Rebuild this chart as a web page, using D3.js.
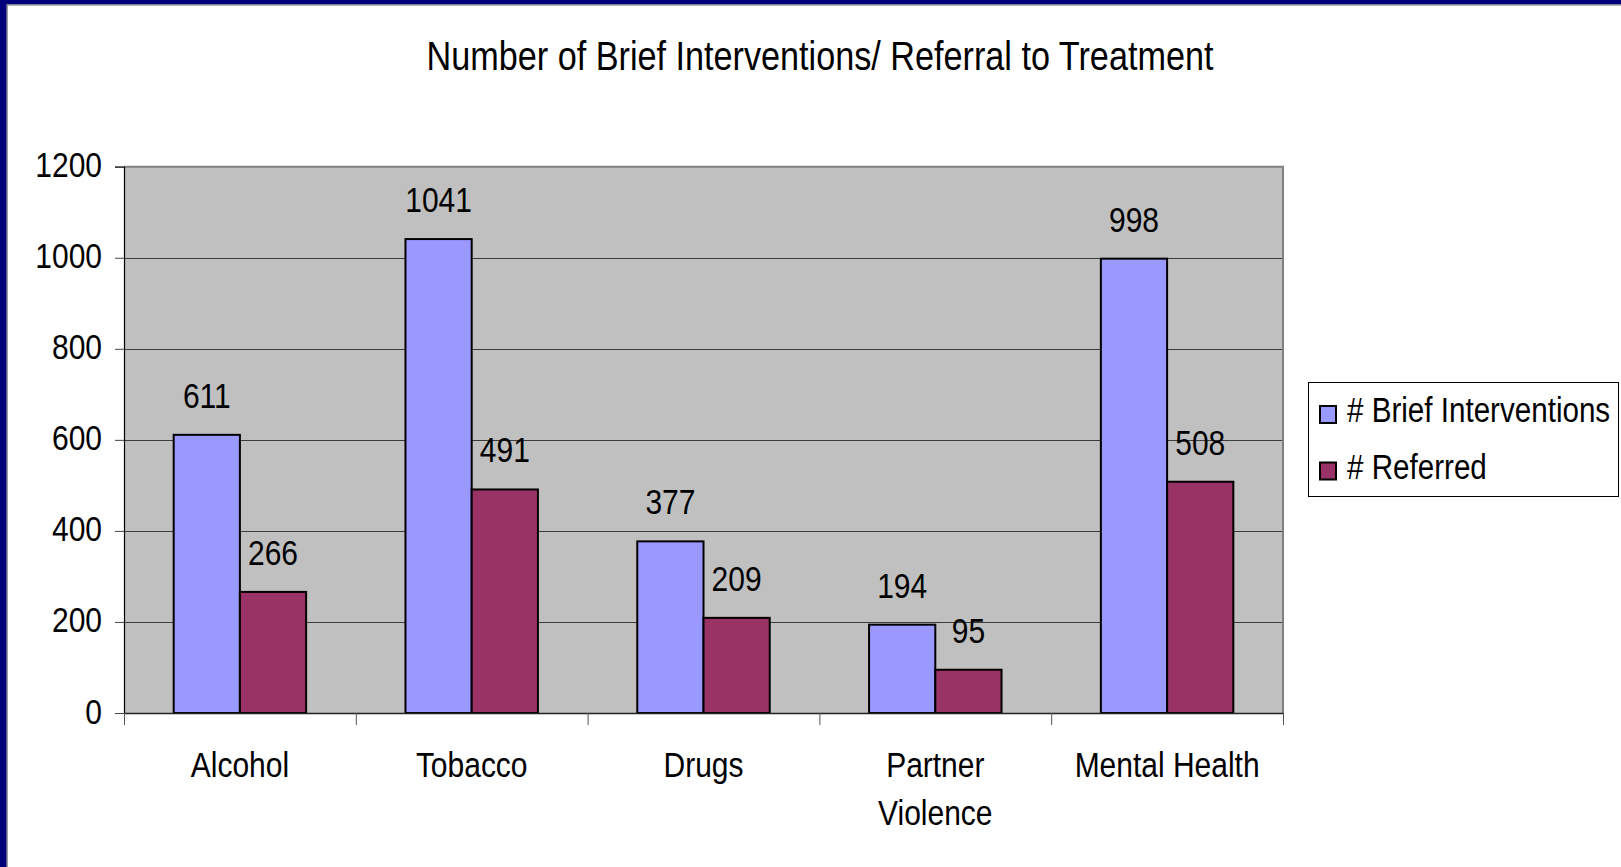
<!DOCTYPE html>
<html><head><meta charset="utf-8">
<script src="https://cdn.jsdelivr.net/npm/d3@7/dist/d3.min.js"></script>
<style>
html,body{margin:0;padding:0;background:#fff;}
svg{display:block;}
text{font-family:"Liberation Sans",Arial,sans-serif;fill:#000;}
</style></head>
<body>
<script>
const title = "Number of Brief Interventions/ Referral to Treatment";
const categories = ["Alcohol","Tobacco","Drugs","Partner Violence","Mental Health"];
const categoryLines = [["Alcohol"],["Tobacco"],["Drugs"],["Partner","Violence"],["Mental Health"]];
const seriesNames = ["# Brief Interventions","# Referred"];
const briefInterventions = [611,1041,377,194,998];
const referred = [266,491,209,95,508];
const yTicks = [0,200,400,600,800,1000,1200];
const seriesColors = ["#9999ff","#993366"];

(function(){
const W = 1621, H = 867;
const SY = 1.17; // vertical stretch of the original text
const svg = d3.select("body").append("svg").attr("width",W).attr("height",H);

// frame
svg.append("rect").attr("x",0).attr("y",0).attr("width",W).attr("height",H).attr("fill","#fff");
svg.append("rect").attr("x",0).attr("y",0).attr("width",W).attr("height",4.5).attr("fill","#00007a");
svg.append("rect").attr("x",0).attr("y",0).attr("width",6.5).attr("height",H).attr("fill","#00007a");
svg.append("line").attr("x1",6.5).attr("x2",W).attr("y1",5).attr("y2",5).attr("stroke","#7a7a7a").attr("stroke-width",1.2);
svg.append("line").attr("x1",7).attr("x2",7).attr("y1",5).attr("y2",H).attr("stroke","#3a3a5a").attr("stroke-width",1);

function stext(g, str, x, y, size, anchor){
  return g.append("text")
    .attr("transform",`translate(${x},${y}) scale(1,${SY})`)
    .attr("text-anchor",anchor||"middle")
    .attr("font-size",size)
    .text(str);
}

// plot area
const pL = 124, pR = 1283, pT = 166.7, pB = 713;
const y = d3.scaleLinear().domain([0,1200]).range([pB,pT]);
const x0 = d3.scaleBand().domain(categories).range([pL,pR]).paddingInner(0).paddingOuter(0);
// Excel gap width 150%: group of 2 bars plus gap of 1.5 bar widths
const bw = x0.bandwidth()/3.5;
const x1 = d3.scaleBand().domain(seriesNames).range([0.75*bw, 2.75*bw]).padding(0);

svg.append("rect").attr("x",pL).attr("y",pT).attr("width",pR-pL).attr("height",pB-pT).attr("fill","#c0c0c0");

// gridlines
svg.append("g").selectAll("line").data(yTicks.filter(d=>d>0 && d<1200)).join("line")
  .attr("x1",pL).attr("x2",pR).attr("y1",d=>Math.round(y(d))+0.5).attr("y2",d=>Math.round(y(d))+0.5)
  .attr("stroke","#3c3c3c").attr("stroke-width",1);

// plot borders (top/right gray)
svg.append("line").attr("x1",pL).attr("x2",pR+1).attr("y1",pT).attr("y2",pT).attr("stroke","#808080").attr("stroke-width",2);
svg.append("line").attr("x1",pR).attr("x2",pR).attr("y1",pT).attr("y2",pB).attr("stroke","#808080").attr("stroke-width",2);

// bars
const series = [briefInterventions, referred];
const barG = svg.append("g");
series.forEach((vals,si)=>{
  barG.selectAll(null).data(vals).join("rect")
    .attr("x",(d,i)=>x0(categories[i])+x1(seriesNames[si]))
    .attr("y",d=>y(d))
    .attr("width",x1.bandwidth())
    .attr("height",d=>pB-y(d))
    .attr("fill",seriesColors[si])
    .attr("stroke","#000").attr("stroke-width",2);
});

// data labels
const labG = svg.append("g");
series.forEach((vals,si)=>{
  vals.forEach((d,i)=>{
    stext(labG, String(d), x0(categories[i])+x1(seriesNames[si])+x1.bandwidth()/2, y(d)-27, 30);
  });
});

// axes
const yAxis = d3.axisLeft(y).tickValues(yTicks).tickSize(9).tickFormat("");
const yg = svg.append("g").attr("transform",`translate(${pL},0)`).call(yAxis);
yg.select(".domain").attr("stroke","#000").attr("stroke-width",1.2);
yg.selectAll(".tick line").attr("stroke","#444");
yTicks.forEach(t=>{ stext(svg, String(t), 102, y(t)+10.5, 30, "end"); });

const xAxis = d3.axisBottom(d3.scaleLinear().domain([0,5]).range([pL,pR])).tickValues([0,1,2,3,4,5]).tickSize(12).tickFormat("").tickSizeOuter(0);
const xg = svg.append("g").attr("transform",`translate(0,${pB})`).call(xAxis);
xg.select(".domain").attr("stroke","#222").attr("stroke-width",1.5);
xg.selectAll(".tick line").attr("stroke","#555");

categories.forEach((c,i)=>{
  categoryLines[i].forEach((ln,j)=>{
    stext(svg, ln, x0(c)+x0.bandwidth()/2, 776.5 + j*48, 30);
  });
});

// title
stext(svg, title, 820, 70, 34.2);

// legend
const lg = svg.append("g");
lg.append("rect").attr("x",1308.5).attr("y",382.5).attr("width",310).attr("height",114).attr("fill","#fff").attr("stroke","#000").attr("stroke-width",1);
seriesNames.forEach((s,i)=>{
  const yy = 406 + i*56.5;
  lg.append("rect").attr("x",1320).attr("y",yy).attr("width",16).attr("height",17).attr("fill",seriesColors[i]).attr("stroke","#000").attr("stroke-width",2);
  stext(lg, s, 1347, yy+16, 29.6, "start");
});
})();
</script>
</body></html>
